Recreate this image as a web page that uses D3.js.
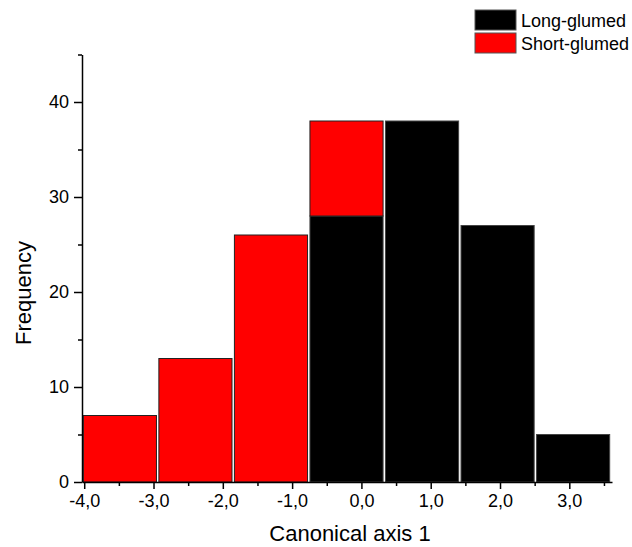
<!DOCTYPE html>
<html>
<head>
<meta charset="utf-8">
<script src="https://cdn.jsdelivr.net/npm/d3@7"></script>
<style>
  body { margin: 0; background: #fff; }
  svg { display: block; font-family: "Liberation Sans", Arial, sans-serif; }
</style>
</head>
<body>
<div id="chart"></div>
<script>
// bin edges on canonical axis 1 (7 bins)
var binEdges = [-4.03, -2.94, -1.85, -0.76, 0.33, 1.42, 2.51, 3.60];
var longGlumed = [0, 0, 0, 28, 38, 27, 5];
var shortGlumed = [7, 13, 26, 10, 0, 0, 0];
var seriesNames = ['Long-glumed', 'Short-glumed'];
var seriesColors = ['#000000', '#ff0000'];
var xTicks = [-4, -3, -2, -1, 0, 1, 2, 3];
var xMinorTicks = [-3.5, -2.5, -1.5, -0.5, 0.5, 1.5, 2.5, 3.5];
var yTicks = [0, 10, 20, 30, 40];
var yMinorTicks = [5, 15, 25, 35, 45];

var W = 632, H = 547;
var svg = d3.select('#chart').append('svg')
    .attr('width', W)
    .attr('height', H);

var x = d3.scaleLinear().domain([-4.032, 3.616]).range([82, 612]);
var y = d3.scaleLinear().domain([0, 45]).range([482, 54.5]);

// stacked bins: long-glumed at the bottom, short-glumed on top
var bins = longGlumed.map(function (d, i) {
  return { x0: binEdges[i], x1: binEdges[i + 1], long: d, short: shortGlumed[i] };
});

var bars = svg.append('g');
bins.forEach(function (b) {
  var left = x(b.x0) + 1.2, right = x(b.x1) - 1.2;
  if (b.long > 0) {
    bars.append('rect')
        .attr('x', left).attr('width', right - left)
        .attr('y', y(b.long)).attr('height', y(0) - y(b.long))
        .attr('fill', seriesColors[0])
        .attr('stroke', '#444').attr('stroke-width', 1);
  }
  if (b.short > 0) {
    bars.append('rect')
        .attr('x', left).attr('width', right - left)
        .attr('y', y(b.long + b.short)).attr('height', y(b.long) - y(b.long + b.short))
        .attr('fill', seriesColors[1])
        .attr('stroke', '#222').attr('stroke-width', 1);
  }
});

function fmt(d) { return d3.format('.1f')(d).replace('.', ',').replace('−', '-'); }

// x axis
svg.append('g')
    .attr('transform', 'translate(0,' + y(0) + ')')
    .call(d3.axisBottom(x).tickValues(xTicks).tickFormat(fmt).tickSize(7).tickSizeOuter(0).tickPadding(5));
svg.append('g')
    .attr('transform', 'translate(0,' + y(0) + ')')
    .call(d3.axisBottom(x).tickValues(xMinorTicks).tickFormat('').tickSize(4).tickSizeOuter(0))
    .select('.domain').remove();

// y axis
svg.append('g')
    .attr('transform', 'translate(' + x.range()[0] + ',0)')
    .call(d3.axisLeft(y).tickValues(yTicks).tickSize(8).tickSizeOuter(0).tickPadding(5));
svg.append('g')
    .attr('transform', 'translate(' + x.range()[0] + ',0)')
    .call(d3.axisLeft(y).tickValues(yMinorTicks).tickFormat('').tickSize(4).tickSizeOuter(0))
    .select('.domain').remove();

svg.selectAll('.domain, .tick line')
    .attr('stroke', '#000')
    .attr('stroke-width', 1.5);
svg.selectAll('.tick text')
    .attr('fill', '#000')
    .style('font-size', '18px')
    .style('font-family', '"Liberation Sans", Arial, sans-serif');

// axis titles
svg.append('text')
    .attr('x', 350).attr('y', 541)
    .attr('text-anchor', 'middle')
    .style('font-size', '22px')
    .text('Canonical axis 1');

svg.append('text')
    .attr('transform', 'translate(31,293) rotate(-90)')
    .attr('text-anchor', 'middle')
    .style('font-size', '22px')
    .text('Frequency');

// legend
var legend = svg.append('g').attr('transform', 'translate(475,10)');
seriesNames.forEach(function (name, i) {
  legend.append('rect')
      .attr('x', 0).attr('y', i * 23)
      .attr('width', 41).attr('height', 20)
      .attr('fill', seriesColors[i])
      .attr('stroke', '#555').attr('stroke-width', 1);
  legend.append('text')
      .attr('x', 46).attr('y', i * 23 + 16.5)
      .style('font-size', '18px')
      .text(name);
});
</script>
</body>
</html>
